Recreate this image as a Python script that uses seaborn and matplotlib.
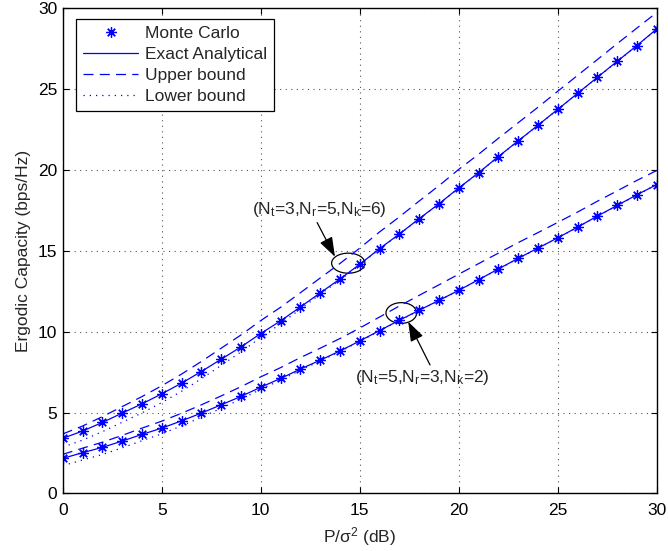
import numpy as np
import pandas as pd
import matplotlib
matplotlib.use("Agg")
import matplotlib.pyplot as plt
import seaborn as sns
from matplotlib.patches import Ellipse

snr_db = list(range(0, 31))

# Case A: (Nt=3, Nr=5, Nk=6)
exact_a = [3.41, 3.86, 4.39, 4.97, 5.54, 6.16, 6.82, 7.54, 8.30, 9.06, 9.89, 10.67, 11.53, 12.40, 13.26,
           14.17, 15.14, 16.04, 16.99, 17.91, 18.89, 19.83, 20.83, 21.80, 22.77, 23.75, 24.74, 25.73,
           26.72, 27.70, 28.72]
mc_a = [3.41, 3.86, 4.39, 4.97, 5.54, 6.16, 6.82, 7.54, 8.30, 9.06, 9.89, 10.67, 11.53, 12.40, 13.26,
        14.17, 15.14, 16.04, 16.99, 17.91, 18.89, 19.83, 20.83, 21.80, 22.77, 23.75, 24.74, 25.73,
        26.72, 27.70, 28.72]
upper_a = [3.68, 4.17, 4.75, 5.37, 5.99, 6.66, 7.38, 8.16, 8.98, 9.80, 10.69, 11.51, 12.41, 13.32, 14.22,
           15.17, 16.17, 17.10, 18.08, 19.03, 20.04, 20.97, 21.96, 22.92, 23.88, 24.87, 25.85, 26.83,
           27.81, 28.78, 29.74]
lower_a = [2.86, 3.30, 3.82, 4.40, 4.98, 5.62, 6.32, 7.09, 7.92, 8.75, 9.65, 10.49, 11.40, 12.31, 13.20,
           14.13, 15.11, 16.02, 16.975, 17.90, 18.88, 19.82, 20.82, 21.79, 22.76, 23.74, 24.73, 25.72,
           26.71, 27.69, 28.71]

# Case B: (Nt=5, Nr=3, Nk=2)
exact_b = [2.17, 2.52, 2.85, 3.24, 3.65, 4.04, 4.49, 4.97, 5.48, 6.00, 6.57, 7.11, 7.69, 8.24, 8.81,
           9.43, 10.07, 10.71, 11.33, 11.94, 12.56, 13.22, 13.88, 14.54, 15.17, 15.81, 16.47, 17.15,
           17.81, 18.47, 19.10]
mc_b = [2.17, 2.52, 2.85, 3.24, 3.65, 4.04, 4.49, 4.97, 5.48, 6.00, 6.57, 7.11, 7.69, 8.24, 8.81,
        9.43, 10.07, 10.71, 11.33, 11.94, 12.56, 13.22, 13.88, 14.54, 15.17, 15.81, 16.47, 17.15,
        17.81, 18.47, 19.10]
upper_b = [2.42, 2.80, 3.17, 3.59, 4.04, 4.47, 4.96, 5.48, 6.03, 6.60, 7.21, 7.78, 8.40, 8.98, 9.58,
           10.23, 10.91, 11.59, 12.25, 12.90, 13.56, 14.21, 14.86, 15.51, 16.13, 16.76, 17.40, 18.07,
           18.71, 19.36, 19.97]
lower_b = [1.72, 2.07, 2.41, 2.82, 3.26, 3.69, 4.18, 4.71, 5.27, 5.83, 6.44, 7.01, 7.62, 8.19, 8.77,
           9.40, 10.05, 10.695, 11.32, 11.93, 12.55, 13.21, 13.87, 14.53, 15.16, 15.80, 16.46, 17.14,
           17.80, 18.46, 19.09]

legend_labels = ["Monte Carlo", "Exact Analytical", "Upper bound", "Lower bound"]
label_a = r"(N$_\mathrm{t}$=3,N$_\mathrm{r}$=5,N$_\mathrm{k}$=6)"
label_b = r"(N$_\mathrm{t}$=5,N$_\mathrm{r}$=3,N$_\mathrm{k}$=2)"

sns.set_theme(style="white")
plt.rcParams["font.family"] = ["Liberation Sans", "DejaVu Sans"]
plt.rcParams["mathtext.fontset"] = "custom"
plt.rcParams["mathtext.rm"] = "Liberation Sans"
plt.rcParams["mathtext.it"] = "Liberation Sans:italic"
plt.rcParams["mathtext.bf"] = "Liberation Sans:bold"

FS = 12.5

fig = plt.figure(figsize=(6.68, 5.51), dpi=100)
ax = fig.add_axes([0.0939, 0.1044, 0.8892, 0.8805])

blue = "#0000ff"
star = (8, 2, 0)
lw = 0.9

for mc, ex, ub, lb, first in [(mc_a, exact_a, upper_a, lower_a, True),
                              (mc_b, exact_b, upper_b, lower_b, False)]:
    sns.lineplot(x=snr_db, y=mc, ax=ax, color=blue, marker=star, linestyle="",
                 markersize=7.5, markeredgewidth=0.9, markeredgecolor=blue,
                 label=legend_labels[0] if first else None)
    sns.lineplot(x=snr_db, y=ex, ax=ax, color=blue, linewidth=lw,
                 label=legend_labels[1] if first else None)
    l = sns.lineplot(x=snr_db, y=ub, ax=ax, color=blue, linewidth=lw,
                     label=legend_labels[2] if first else None)
    l.lines[-1].set_dashes((8, 5))
    l = sns.lineplot(x=snr_db, y=lb, ax=ax, color=blue, linewidth=lw,
                     label=legend_labels[3] if first else None)
    l.lines[-1].set_dashes((1, 4))

ax.set_xlim(0, 30)
ax.set_ylim(0, 30)
ax.set_xticks([0, 5, 10, 15, 20, 25, 30])
ax.set_yticks([0, 5, 10, 15, 20, 25, 30])
ax.tick_params(direction="in", length=4, width=0.8, labelsize=FS, colors="black",
               top=True, right=True, bottom=True, left=True, pad=4)
ax.tick_params(axis="x", pad=7)
ax.grid(True, linestyle=(0, (1, 4)), color="#555555", linewidth=0.8)
for s in ax.spines.values():
    s.set_color("black")
    s.set_linewidth(1.0)
    s.set_visible(True)

ax.set_xlabel(r"P/σ$^\mathrm{2}$ (dB)", fontsize=FS, labelpad=5)
ax.set_ylabel("Ergodic Capacity (bps/Hz)", fontsize=FS, labelpad=5)

# ellipses and annotations
ax.add_patch(Ellipse((14.42, 14.24), 1.68, 1.24, fill=False, edgecolor="black", linewidth=0.9))
ax.add_patch(Ellipse((17.10, 11.16), 1.55, 1.28, fill=False, edgecolor="black", linewidth=0.9))

ax.annotate("", xy=(13.75, 14.64), xytext=(12.85, 16.75),
            arrowprops=dict(arrowstyle="-|>,head_length=1.0,head_width=0.35", color="black", lw=0.9,
                            shrinkA=0, shrinkB=0))
ax.annotate("", xy=(17.45, 10.62), xytext=(18.55, 7.95),
            arrowprops=dict(arrowstyle="-|>,head_length=1.0,head_width=0.35", color="black", lw=0.9,
                            shrinkA=0, shrinkB=0))
ax.text(9.55, 17.53, label_a, fontsize=FS, ha="left", va="center")
ax.text(14.76, 7.15, label_b, fontsize=FS, ha="left", va="center")

leg = ax.legend(loc="upper left", bbox_to_anchor=(0.022, 0.978), fontsize=FS,
                frameon=True, fancybox=False, edgecolor="black", framealpha=1,
                borderaxespad=0, handlelength=3.2, labelspacing=0.33, borderpad=0.4,
                handletextpad=0.4)
leg.get_frame().set_linewidth(0.9)

fig.savefig("out.png", dpi=100)
